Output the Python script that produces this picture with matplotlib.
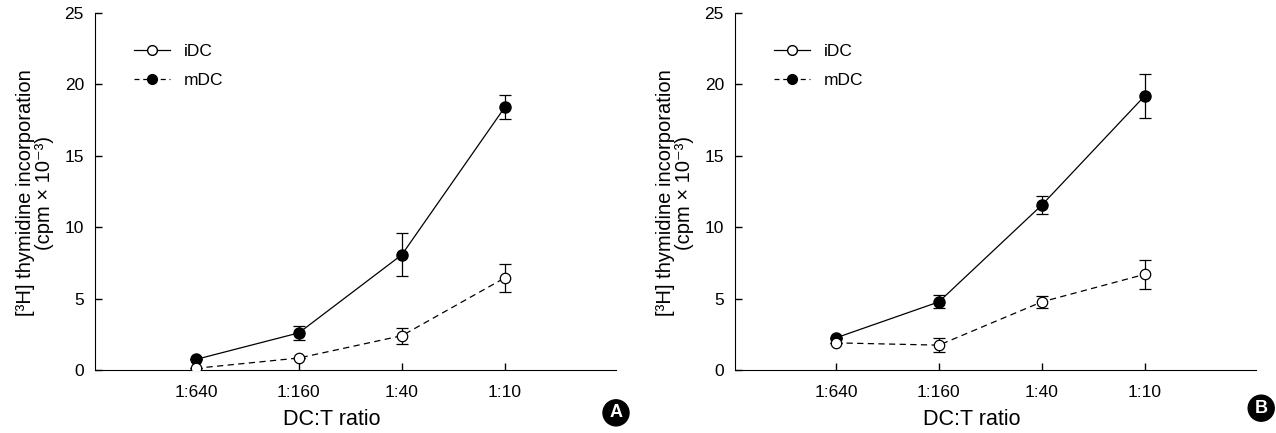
import numpy as np
import matplotlib.pyplot as plt
from matplotlib.lines import Line2D

plt.rcParams['font.family'] = ['Liberation Sans', 'DejaVu Sans']

ratios = ['1:640', '1:160', '1:40', '1:10']

# panel A
idc_a = [0.12, 0.84, 2.4, 6.45]
idc_a_err = [0.0, 0.0, 0.57, 1.0]
mdc_a = [0.74, 2.6, 8.07, 18.4]
mdc_a_err = [0.0, 0.5, 1.5, 0.85]

# panel B
idc_b = [1.9, 1.74, 4.77, 6.7]
idc_b_err = [0.0, 0.5, 0.4, 1.0]
mdc_b = [2.25, 4.77, 11.55, 19.2]
mdc_b_err = [0.0, 0.45, 0.6, 1.55]

panels = [('A', idc_a, idc_a_err, mdc_a, mdc_a_err),
          ('B', idc_b, idc_b_err, mdc_b, mdc_b_err)]

fig = plt.figure(figsize=(12.76, 4.33), dpi=100)
lefts = [95 / 1276, 735 / 1276]
badge_pos = [(1.0, -0.12), (1.01, -0.107)]

for (tag, idc, idc_err, mdc, mdc_err), left, bpos in zip(panels, lefts, badge_pos):
    ax = fig.add_axes([left, 1 - 370 / 433, 521 / 1276, 357 / 433])
    x = np.arange(len(ratios))

    ax.errorbar(x, mdc, yerr=mdc_err, color='black', lw=0.9, ls='-',
                marker='o', ms=8, mfc='black', mec='black',
                capsize=4.5, elinewidth=0.9, capthick=0.9, zorder=3)
    ax.errorbar(x, idc, yerr=idc_err, color='black', lw=0.9, ls=(0, (5, 3.5)),
                marker='o', ms=7.5, mfc='white', mec='black', mew=0.9,
                capsize=4.5, elinewidth=0.9, capthick=0.9, zorder=4)

    ax.set_xlim(-0.98, 4.08)
    ax.set_ylim(0, 25)
    ax.set_yticks([0, 5, 10, 15, 20, 25])
    ax.set_xticks(x)
    ax.set_xticklabels(ratios)
    ax.spines['top'].set_visible(False)
    ax.spines['right'].set_visible(False)
    ax.tick_params(direction='in', length=5, width=1, labelsize=12.5)
    ax.tick_params(axis='x', pad=11)
    ax.tick_params(axis='y', pad=8)

    ax.set_xlabel('DC:T ratio', fontsize=15.5)
    ax.xaxis.set_label_coords(0.454, -0.108)
    ax.set_ylabel('[³H] thymidine incorporation\n(cpm × 10⁻³)',
                  fontsize=14.5, linespacing=1.0)
    ax.yaxis.set_label_coords(-0.079, 0.496)

    handles = [Line2D([], [], color='black', lw=0.9, ls='-', marker='o',
                      ms=7, mfc='white', mec='black'),
               Line2D([], [], color='black', lw=0.9, ls=(0, (4, 3)), marker='o',
                      ms=7, mfc='black', mec='black')]
    ax.legend(handles, ['iDC', 'mDC'], loc='upper left',
              bbox_to_anchor=(0.058, 0.937), frameon=False, fontsize=12.5,
              handlelength=2.1, handletextpad=0.75, labelspacing=0.8,
              borderpad=0)

    ax.text(bpos[0], bpos[1], tag, transform=ax.transAxes, ha='center',
            va='center', color='white', fontsize=13, fontweight='bold',
            bbox=dict(boxstyle='circle,pad=0.25', fc='black', ec='black'))

fig.savefig('out.png', dpi=100)
